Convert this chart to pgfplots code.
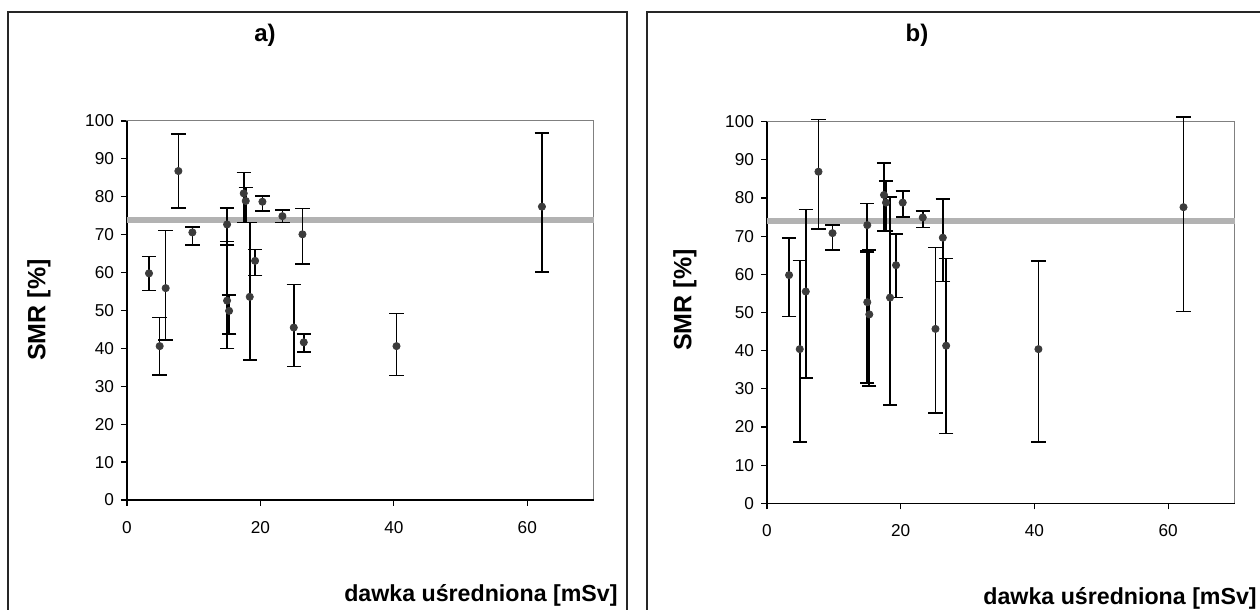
\documentclass[border=0pt]{standalone}
\usepackage{fontspec}
\setmainfont{Liberation Sans}
\usepackage{pgfplots}
\usepackage{pgfplotstable}
\pgfplotsset{compat=1.18}
\definecolor{refline}{RGB}{178,178,178}
\definecolor{dotgray}{RGB}{60,60,60}

% x  y  lo  hi  (SMR with confidence interval), panel a
\pgfplotstableread{
x    y     lo    hi
3.3  59.8  55.3  64.2
5.8  55.9  42.2  71.1
4.9  40.6  33.0  48.2
7.7  86.8  77.0  96.5
9.8  70.6  67.3  72.1
15.0 72.7  67.3  77.0
15.0 52.6  40.0  68.2
15.3 49.9  43.8  54.1
17.5 80.9  73.2  86.4
17.8 78.9  73.2  82.4
18.4 53.6  36.9  73.2
19.2 63.1  59.2  66.1
20.3 78.7  76.3  80.2
23.3 74.9  73.2  76.5
26.3 70.1  62.3  76.9
25.0 45.5  35.2  56.9
26.5 41.6  39.0  43.8
40.4 40.6  32.9  49.2
62.2 77.4  60.1  96.9
}\dataA

% panel b
\pgfplotstableread{
x    y     lo    hi
3.3  59.8  48.9  69.6
5.8  55.5  32.9  77.0
4.9  40.4  16.1  63.6
7.7  86.9  71.9  100.6
9.8  70.8  66.4  72.9
15.0 72.9  65.9  78.6
15.0 52.7  31.6  66.1
15.3 49.5  30.7  66.4
17.5 80.8  71.4  89.1
17.8 78.8  71.4  84.5
18.4 53.9  25.8  80.3
19.3 62.4  53.9  70.6
20.3 78.8  75.1  81.9
23.3 74.9  72.3  76.6
26.3 69.6  58.1  79.7
25.2 45.7  23.6  67.0
26.8 41.3  18.3  64.2
40.6 40.4  16.1  63.5
62.3 77.6  50.3  101.3
}\dataB

\pgfplotsset{
  smrpanel/.style={
    scale only axis,
    anchor=south west,
    xmin=0, xmax=70, ymin=0, ymax=100,
    xtick={0,20,40,60},
    ytick={0,10,...,100},
    xtick pos=bottom, ytick pos=left,
    tick align=outside,
    major tick length=3pt,
    tick style={black, line width=0.6pt},
    axis line style={gray, line width=0.5pt},
    tick label style={font=\fontsize{8.6}{10}\selectfont},
    /pgf/number format/assume math mode=true,
    xticklabel style={yshift=-4pt},
    clip=false,
  },
  smrdata/.style={
    only marks,
    mark=*, mark size=1.8pt,
    mark options={fill=dotgray, draw=dotgray},
    error bars/.cd,
      y dir=both, y explicit,
      error bar style={black, line width=0.8pt},
      error mark options={rotate=90, mark size=3.6pt, line width=0.8pt, black},
  },
}

\begin{document}
\begin{tikzpicture}
\clip (0,0) rectangle (630pt,305pt);

% panel frames
\draw[line width=1pt, black!85] (4pt,-2pt) -- (4pt,299pt) -- (313.3pt,299pt) -- (313.3pt,-2pt);
\draw[line width=1pt, black!85] (323.7pt,-2pt) -- (323.7pt,299pt) -- (632pt,299pt);

% ---------- a) ----------
\begin{axis}[smrpanel, at={(63.5pt,55pt)}, width=233.5pt, height=189.5pt]
  \draw[black, line width=0.75pt] (rel axis cs:0,1) -- (rel axis cs:0,0) -- (rel axis cs:1,0);
  \addplot[refline, line width=3pt, forget plot] coordinates {(0,74) (70,74)};
  \addplot[smrdata] table[x=x, y=y,
      y error plus expr=\thisrow{hi}-\thisrow{y},
      y error minus expr=\thisrow{y}-\thisrow{lo}] {\dataA};
\end{axis}

% ---------- b) ----------
\begin{axis}[smrpanel, at={(383.5pt,53.35pt)}, width=234pt, height=190.8pt]
  \draw[black, line width=0.75pt] (rel axis cs:0,1) -- (rel axis cs:0,0) -- (rel axis cs:1,0);
  \addplot[refline, line width=3pt, forget plot] coordinates {(0,74) (70,74)};
  \addplot[smrdata] table[x=x, y=y,
      y error plus expr=\thisrow{hi}-\thisrow{y},
      y error minus expr=\thisrow{y}-\thisrow{lo}] {\dataB};
\end{axis}

% titles and labels
\node[font=\bfseries\fontsize{12}{14}\selectfont] at (132.5pt,287.5pt) {a)};
\node[font=\bfseries\fontsize{12}{14}\selectfont] at (458.5pt,287.5pt) {b)};
\node[font=\bfseries\fontsize{12.5}{14}\selectfont, rotate=90] at (19.5pt,150pt) {SMR [\%]};
\node[font=\bfseries\fontsize{12.5}{14}\selectfont, rotate=90] at (342.5pt,155pt) {SMR [\%]};
\node[font=\bfseries\fontsize{11.6}{13}\selectfont, anchor=east, inner sep=0pt] at (309pt,7.5pt) {dawka uśredniona [mSv]};
\node[font=\bfseries\fontsize{11.6}{13}\selectfont, anchor=west, inner sep=0pt] at (491.5pt,6pt) {dawka uśredniona [mSv]};
\end{tikzpicture}
\end{document}
